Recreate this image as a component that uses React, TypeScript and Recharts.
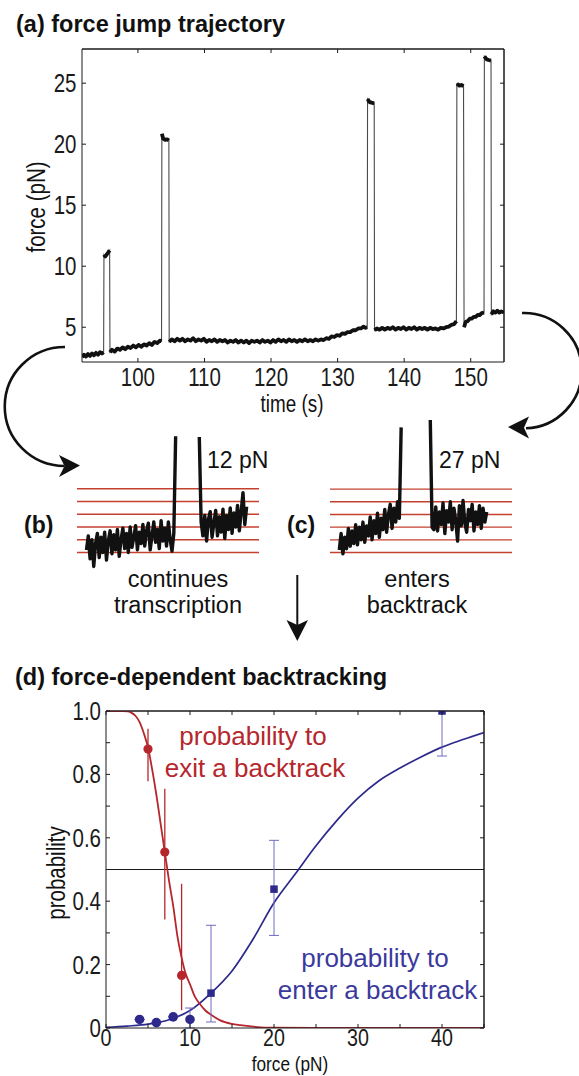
import React from 'react';
import { ComposedChart, LineChart, Line, XAxis, YAxis, Scatter, ErrorBar, ReferenceLine } from 'recharts';

const FONT = '"Liberation Sans", Arial, Helvetica, sans-serif';
const INK = '#1a1a1a';
const RED = '#b5272d';
const BLUE = '#2d2a8c';
const BLUE_TEXT = '#3b3a9c';
const BLUE_BAR = '#6f6dbf';
const STEP_RED = '#c4412f';
const SQUEEZE = 0.82; // the figure's axis lettering is set narrow

// (a) force jump trajectory, [time (s), force (pN)]
const LOW_1 = [[91.6, 2.55], [91.9, 2.75], [92.2, 2.6], [92.5, 2.8], [92.8, 2.65], [93.1, 2.85], [93.4, 2.7], [93.7, 2.9], [94.0, 2.75], [94.3, 2.95], [94.6, 2.85], [94.85, 2.95]];
const HIGH_1 = [[94.9, 10.95], [95.1, 10.8], [95.3, 10.95], [95.5, 11.1], [95.75, 11.3]];
const LOW_2 = [[95.8, 2.95], [96.1, 3.15], [96.5, 3.0], [96.9, 3.25], [97.3, 3.15], [97.7, 3.35], [98.1, 3.2], [98.5, 3.4], [98.9, 3.3], [99.3, 3.5], [99.7, 3.35], [100.1, 3.55], [100.5, 3.4], [100.9, 3.6], [101.3, 3.5], [101.7, 3.7], [102.1, 3.55], [102.5, 3.8], [102.9, 3.7], [103.3, 3.9], [103.55, 3.85]];
const HIGH_2 = [[103.6, 20.85], [103.8, 20.45], [104.1, 20.35], [104.4, 20.4], [104.65, 20.3]];
const LOW_3 = [
  [104.7, 3.8], [105.1, 4.0], [105.5, 3.85], [105.9, 4.05], [106.3, 3.9], [106.7, 4.05], [107.1, 3.85], [107.5, 4.0], [107.9, 3.9], [108.3, 4.1],
  [108.7, 3.85], [109.1, 4.0], [109.5, 3.9], [109.9, 4.05], [110.3, 3.8], [110.7, 3.95], [111.1, 3.85], [111.5, 4.0], [111.9, 3.8], [112.3, 3.95],
  [112.7, 3.85], [113.1, 3.95], [113.5, 3.75], [113.9, 3.9], [114.3, 3.8], [114.7, 3.95], [115.1, 3.75], [115.5, 3.9], [115.9, 3.75], [116.3, 3.9],
  [116.7, 3.7], [117.1, 3.9], [117.5, 3.8], [117.9, 3.9], [118.3, 3.75], [118.7, 3.95], [119.1, 3.8], [119.5, 3.9], [119.9, 3.75], [120.3, 3.95],
  [120.7, 3.8], [121.1, 4.0], [121.5, 3.85], [121.9, 3.95], [122.3, 3.8], [122.7, 4.0], [123.1, 3.85], [123.5, 3.95], [123.9, 3.8], [124.3, 3.95],
  [124.7, 3.85], [125.1, 4.0], [125.5, 3.85], [125.9, 3.95], [126.3, 3.85], [126.7, 4.0], [127.1, 3.9], [127.5, 4.0], [127.9, 3.95], [128.3, 4.1],
  [128.7, 4.05], [129.1, 4.25], [129.5, 4.2], [129.9, 4.35], [130.3, 4.3], [130.7, 4.5], [131.1, 4.45], [131.5, 4.6], [131.9, 4.6], [132.3, 4.75],
  [132.7, 4.75], [133.1, 4.9], [133.5, 4.9], [133.9, 5.05], [134.2, 4.95], [134.45, 5.0],
];
const HIGH_3 = [[134.5, 23.7], [134.8, 23.45], [135.1, 23.4], [135.5, 23.35]];
const LOW_4 = [
  [135.55, 4.75], [135.9, 4.9], [136.3, 4.8], [136.7, 4.95], [137.1, 4.8], [137.5, 4.95], [137.9, 4.85], [138.3, 5.0], [138.7, 4.8], [139.1, 4.95],
  [139.5, 4.85], [139.9, 5.0], [140.3, 4.8], [140.7, 4.95], [141.1, 4.85], [141.5, 5.0], [141.9, 4.8], [142.3, 4.95], [142.7, 4.85], [143.1, 4.95],
  [143.5, 4.8], [143.9, 4.95], [144.3, 4.85], [144.7, 4.9], [145.1, 4.8], [145.5, 4.95], [145.9, 4.9], [146.3, 5.0], [146.7, 5.05], [147.1, 5.2],
  [147.5, 5.25], [147.85, 5.5],
];
const HIGH_4 = [[147.92, 24.95], [148.3, 24.8], [148.6, 24.85], [148.92, 24.75]];
const LOW_5 = [[149.0, 5.0], [149.25, 5.45], [149.55, 5.5], [149.85, 5.7], [150.15, 5.7], [150.45, 5.85], [150.75, 5.85], [151.05, 6.0], [151.35, 6.0], [151.65, 6.15], [152.0, 6.2]];
const HIGH_5 = [[152.05, 27.2], [152.4, 26.95], [152.7, 26.9], [153.05, 26.85]];
const LOW_6 = [[153.1, 6.05], [153.4, 6.3], [153.7, 6.2], [154.0, 6.35], [154.3, 6.2], [154.6, 6.3], [155, 6.2]];
const TRACE_SEGMENTS = [LOW_1, HIGH_1, LOW_2, HIGH_2, LOW_3, HIGH_3, LOW_4, HIGH_4, LOW_5, HIGH_5, LOW_6];
const A_X_DOMAIN = [91.6, 155];
const A_Y_DOMAIN = [2.15, 27.8];
const A_X_TICKS = [100, 110, 120, 130, 140, 150];
const A_Y_TICKS = [5, 10, 15, 20, 25];

// (b) and (c) zoomed steps, one value per sample, null where the trace is off scale
const B_TRACE = [
  0.2, 1.3, -0.5, 1.0, -1.1, 0.7, 1.5, -0.4, 1.2, 0.0, 1.6, -0.6, 0.9, 1.7, -0.1, 1.4, 0.2, 1.8, -0.3, 1.0,
  1.9, 0.3, 1.5, 0.0, 2.0, 0.4, 1.2, 2.1, 0.2, 1.6, 0.7, 2.2, 0.5, 1.7, 2.3, 0.2, 1.3, 2.4, 0.8, 1.8,
  0.3, 2.5, 0.9, 1.9, 0.5, 2.4, 1.0, 0.1, 1.5,
  9.13, null, null, null, null, null, null, null, null, null, null, null, null, 9.07,
  2.4, 1.3, 2.9, 0.9, 2.6, 3.2, 1.2, 2.3, 3.3, 1.3, 2.8, 1.6, 3.4, 1.1, 2.9, 1.8, 3.5, 1.5, 3.1, 2.0,
  3.7, 1.7, 3.2, 4.7, 2.2, 3.6,
];
const C_TRACE = [
  0.2, 1.5, -0.1, 1.2, 0.3, 1.9, 0.5, 1.7, 0.7, 2.2, 0.6, 2.0, 1.0, 2.4, 0.8, 2.1, 1.3, 2.8, 1.0, 2.5,
  1.5, 3.1, 1.2, 2.7, 1.8, 3.4, 1.6, 3.0, 3.8, 1.9, 3.5, 2.4, 4.0, 2.7,
  9.87, null, null, null, null, null, null, null, null, null, null, null, null, null, null, null, 10.45,
  2.0, 1.8, 3.6, 1.7, 3.2, 2.2, 3.9, 1.5, 3.3, 2.4, 4.0, 1.8, 3.5, 2.5, 0.9, 3.7, 2.1, 4.1, 2.3, 1.6,
  3.4, 2.5, 3.8, 1.7, 3.2, 2.2, 3.7, 1.9, 3.5, 2.4, 3.2,
];
const STEP_LEVELS = [0, 1, 2, 3, 4, 5];

// (d) force-dependent backtracking
const EXIT_FIT_X = [0, 1, 2, 2.6, 3, 3.5, 4, 4.5, 5, 5.5, 6, 6.5, 7, 7.5, 8, 8.5, 9, 9.5, 10, 10.6, 11.2, 11.8, 12.5, 13.6, 15, 16, 18, 20, 25, 30, 35, 40, 45];
const EXIT_FIT_P = [1, 1, 1, 0.999, 0.995, 0.985, 0.965, 0.93, 0.885, 0.815, 0.735, 0.645, 0.555, 0.465, 0.385, 0.29, 0.222, 0.17, 0.138, 0.098, 0.075, 0.056, 0.042, 0.024, 0.013, 0.009, 0.003, 0.001, 0, 0, 0, 0, 0];
const ENTER_FIT_X = [0, 2.5, 5, 7.5, 10, 12.5, 15, 17.5, 20, 22.5, 25, 27.5, 30, 32.5, 35, 37.5, 40, 42.5, 45];
const ENTER_FIT_P = [0.002, 0.006, 0.012, 0.026, 0.055, 0.11, 0.18, 0.28, 0.395, 0.485, 0.575, 0.655, 0.725, 0.78, 0.82, 0.855, 0.886, 0.91, 0.932];
const EXIT_X = [5, 7, 9];
const EXIT_P = [0.88, 0.555, 0.166];
const EXIT_LO = [0.778, 0.342, 0.056];
const EXIT_HI = [0.944, 0.755, 0.455];
const ENTER_DOT_X = [4, 6, 8, 10];
const ENTER_DOT_P = [0.027, 0.017, 0.035, 0.027];
const ENTER_DOT_LO = [0.027, 0.017, 0.035, 0.0];
const ENTER_DOT_HI = [0.027, 0.017, 0.035, 0.063];
const ENTER_SQ_X = [12.5, 20, 40];
const ENTER_SQ_P = [0.11, 0.438, 1.0];
const ENTER_SQ_LO = [0.019, 0.292, 0.858];
const ENTER_SQ_HI = [0.324, 0.592, 1.0];
const D_X_DOMAIN = [0, 45];
const D_Y_DOMAIN = [0, 1];
const D_X_TICKS = [0, 5, 10, 15, 20, 25, 30, 35, 40, 45];
const D_Y_TICKS = [0, 0.1, 0.2, 0.3, 0.4, 0.5, 0.6, 0.7, 0.8, 0.9, 1.0];

const traceRows: { t: number; thin: number | null; thick: number | null }[] = [];
TRACE_SEGMENTS.forEach((seg, k) => {
  if (k > 0) traceRows.push({ t: seg[0][0], thin: null, thick: null });
  seg.forEach(([t, f]) => traceRows.push({ t, thin: f, thick: f }));
});

const toRows = (xs: number[], ps: number[]) => xs.map((x, k) => ({ x, y: ps[k] }));
const toPoints = (xs: number[], ps: number[], lo: number[], hi: number[]) =>
  xs.map((x, k) => ({ x, y: ps[k], err: [ps[k] - lo[k], hi[k] - ps[k]] }));

const frame = { stroke: INK, strokeWidth: 1 };
const noLabel = () => '';

// tick label drawn narrow, like the figure's lettering
function NarrowTick(props: any) {
  const { x, y, payload, textAnchor, side, fmt, size = 25 } = props;
  const label = fmt ? fmt(payload.value) : String(payload.value);
  if (!label) return null;
  return (
    <g transform={`translate(${x},${y})`}>
      <text transform={`scale(${SQUEEZE},1)`} textAnchor={textAnchor} dy={side === 'bottom' ? '0.71em' : '0.36em'}
        fontSize={size} fontFamily={FONT} fill={INK}>{label}</text>
    </g>
  );
}

// top and right edges of the box, with inward ticks, drawn as a second chart on the same plot area
function BoxTopRight({ width, height, margin, xDomain, yDomain, xTicks, yTicks }: any) {
  const corners = [{ x: xDomain[0], y: yDomain[0] }, { x: xDomain[1], y: yDomain[1] }];
  return (
    <LineChart width={width} height={height} margin={margin} data={corners}>
      <XAxis dataKey="x" orientation="top" type="number" domain={xDomain} allowDataOverflow ticks={xTicks} interval={0}
        tickSize={-4} axisLine={frame} tickLine={frame} tickFormatter={noLabel} height={5} />
      <YAxis orientation="right" type="number" domain={yDomain} allowDataOverflow ticks={yTicks} interval={0}
        tickSize={-4} axisLine={frame} tickLine={frame} tickFormatter={noLabel} width={5} />
      <Line dataKey="y" stroke="none" dot={false} isAnimationActive={false} />
    </LineChart>
  );
}

function TrajectoryChart() {
  return (
    <LineChart width={579} height={420} data={traceRows} margin={{ top: 49, right: 75, bottom: 18, left: 0 }}>
      <XAxis dataKey="t" type="number" domain={A_X_DOMAIN} allowDataOverflow ticks={A_X_TICKS} interval={0}
        tickSize={-4} tickMargin={10} axisLine={frame} tickLine={frame} height={40}
        tick={(p: any) => <NarrowTick {...p} side="bottom" />} />
      <YAxis type="number" domain={A_Y_DOMAIN} allowDataOverflow ticks={A_Y_TICKS} interval={0}
        tickSize={-4} tickMargin={9.5} axisLine={frame} tickLine={frame} width={82}
        tick={(p: any) => <NarrowTick {...p} side="left" />} />
      <ReferenceLine y={A_Y_DOMAIN[1]} stroke={INK} strokeWidth={1} />
      <ReferenceLine x={A_X_DOMAIN[1]} stroke={INK} strokeWidth={1} />
      <Line dataKey="thin" stroke="#4a4a4a" strokeWidth={1.1} dot={false} connectNulls isAnimationActive={false} />
      <Line dataKey="thick" stroke="#111" strokeWidth={3.8} dot={false} isAnimationActive={false} strokeLinejoin="round" />
    </LineChart>
  );
}

function StepInset({ trace, xDomain, yDomain, height }: { trace: (number | null)[]; xDomain: number[]; yDomain: number[]; height: number }) {
  const rows = trace.map((v, i) => ({ i, v }));
  return (
    <LineChart width={182} height={height} data={rows} margin={{ top: 0, right: 0, bottom: 0, left: 0 }}>
      <XAxis dataKey="i" type="number" domain={xDomain} allowDataOverflow hide />
      <YAxis type="number" domain={yDomain} allowDataOverflow hide />
      {STEP_LEVELS.map((lvl) => (
        <Line key={lvl} data={[{ i: xDomain[0], v: lvl }, { i: xDomain[1], v: lvl }]} dataKey="v"
          stroke={STEP_RED} strokeWidth={1.4} dot={false} isAnimationActive={false} />
      ))}
      <Line dataKey="v" stroke="#111" strokeWidth={3.4} dot={false} isAnimationActive={false} strokeLinejoin="round" />
    </LineChart>
  );
}

const circle = (fill: string, r: number) => (p: any) => <circle cx={p.cx} cy={p.cy} r={r} fill={fill} />;
const square = (fill: string, s: number) => (p: any) => (
  <rect x={p.cx - s / 2} y={p.cy - s / 2} width={s} height={s} fill={fill} />
);

function BacktrackChart() {
  const yLabel = (v: number) => {
    const r = Math.round(v * 10);
    if (r % 2 !== 0) return '';
    return r === 0 ? '0' : v.toFixed(1);
  };
  const xLabel = (v: number) => (v % 10 === 0 ? String(v) : '');
  return (
    <ComposedChart width={579} height={396} margin={{ top: 31, right: 95, bottom: 3, left: 0 }}>
      <XAxis dataKey="x" type="number" domain={D_X_DOMAIN} allowDataOverflow ticks={D_X_TICKS} interval={0}
        tickSize={-4} tickMargin={5} axisLine={frame} tickLine={frame} height={45}
        tick={(p: any) => <NarrowTick {...p} side="bottom" fmt={xLabel} size={24} />} />
      <YAxis type="number" domain={D_Y_DOMAIN} allowDataOverflow ticks={D_Y_TICKS} interval={0}
        tickSize={-4} tickMargin={9} axisLine={frame} tickLine={frame} width={106}
        tick={(p: any) => <NarrowTick {...p} side="left" fmt={yLabel} />} />
      <ReferenceLine y={D_Y_DOMAIN[1]} stroke={INK} strokeWidth={1} />
      <ReferenceLine x={D_X_DOMAIN[1]} stroke={INK} strokeWidth={1} />
      <ReferenceLine y={0.5} stroke={INK} strokeWidth={1} />
      <Line data={toRows(ENTER_FIT_X, ENTER_FIT_P)} dataKey="y" type="monotone" stroke={BLUE} strokeWidth={1.7}
        dot={false} isAnimationActive={false} />
      <Line data={toRows(EXIT_FIT_X, EXIT_FIT_P)} dataKey="y" type="monotone" stroke={RED} strokeWidth={1.8}
        dot={false} isAnimationActive={false} />
      <Scatter data={toPoints(EXIT_X, EXIT_P, EXIT_LO, EXIT_HI)} dataKey="y" shape={circle(RED, 4.6)} isAnimationActive={false}>
        <ErrorBar dataKey="err" direction="y" width={0} stroke={RED} strokeWidth={1.3} />
      </Scatter>
      <Scatter data={toPoints(ENTER_DOT_X, ENTER_DOT_P, ENTER_DOT_LO, ENTER_DOT_HI)} dataKey="y" shape={circle(BLUE, 4.8)} isAnimationActive={false}>
        <ErrorBar dataKey="err" direction="y" width={5} stroke={BLUE_BAR} strokeWidth={1} />
      </Scatter>
      <Scatter data={toPoints(ENTER_SQ_X, ENTER_SQ_P, ENTER_SQ_LO, ENTER_SQ_HI)} dataKey="y" shape={square(BLUE, 7.5)} isAnimationActive={false}>
        <ErrorBar dataKey="err" direction="y" width={5} stroke={BLUE_BAR} strokeWidth={1} />
      </Scatter>
    </ComposedChart>
  );
}

export default function App() {
  const txt = { fontFamily: FONT, fill: '#111' };
  const abs = (left: number, top: number) => ({ position: 'absolute' as const, left, top });
  return (
    <div style={{ position: 'absolute', left: 0, top: 0, width: 579, height: 1076, background: '#fff', overflow: 'hidden' }}>
      <div style={abs(0, 0)}>
        <TrajectoryChart />
      </div>
      <div style={{ ...abs(0, 0), pointerEvents: 'none' }}>
        <BoxTopRight width={579} height={420} margin={{ top: 44, right: 70, bottom: 58, left: 82 }}
          xDomain={A_X_DOMAIN} yDomain={A_Y_DOMAIN} xTicks={A_X_TICKS} yTicks={A_Y_TICKS} />
      </div>
      <div style={abs(77.3, 435.5)}>
        <StepInset trace={B_TRACE} xDomain={[-5.2, 94.8]} yDomain={[-1.3, 9.15]} height={133} />
      </div>
      <div style={abs(330, 419.6)}>
        <StepInset trace={C_TRACE} xDomain={[-5.1, 94.9]} yDomain={[-1.3, 10.45]} height={149} />
      </div>
      <div style={abs(0, 680)}>
        <BacktrackChart />
      </div>
      <div style={{ ...abs(0, 680), pointerEvents: 'none' }}>
        <BoxTopRight width={579} height={396} margin={{ top: 26, right: 90, bottom: 48, left: 106 }}
          xDomain={D_X_DOMAIN} yDomain={D_Y_DOMAIN} xTicks={D_X_TICKS} yTicks={D_Y_TICKS} />
      </div>
      <svg width={579} height={1076} style={{ position: 'absolute', left: 0, top: 0, pointerEvents: 'none' }}>
        <text x={16} y={32} fontSize={23.5} fontWeight="bold" {...txt}>(a) force jump trajectory</text>
        <text fontSize={25} textAnchor="middle" transform={`translate(45,207) rotate(-90) scale(${SQUEEZE},1)`} {...txt}>force (pN)</text>
        <text fontSize={23} textAnchor="middle" transform={`translate(292,412) scale(${SQUEEZE},1)`} {...txt}>time (s)</text>

        <path d="M65,347 A60,59.5 0 0 0 64.5,466" fill="none" stroke="#111" strokeWidth={2.6} />
        <path d="M80,465.5 L59,455 L64.5,466 L59,477 Z" fill="#111" />
        <path d="M522,313 A57.5,57.5 0 0 1 526,428.3" fill="none" stroke="#111" strokeWidth={2.6} />
        <path d="M508,427 L529,416.5 L524,427.8 L529,438.5 Z" fill="#111" />
        <line x1={297.3} y1={575} x2={297.3} y2={627} stroke="#111" strokeWidth={2} />
        <path d="M297.3,641 L286.5,620 L297.3,625 L308,620 Z" fill="#111" />

        <text x={24} y={533} fontSize={23} fontWeight="bold" {...txt}>(b)</text>
        <text x={287} y={533} fontSize={23} fontWeight="bold" {...txt}>(c)</text>
        <text x={207} y={468} fontSize={23} {...txt}>12 pN</text>
        <text x={439} y={468} fontSize={23} {...txt}>27 pN</text>
        <text x={178} y={587} fontSize={23.5} textAnchor="middle" {...txt}>continues</text>
        <text x={178} y={613} fontSize={23.5} textAnchor="middle" {...txt}>transcription</text>
        <text x={417} y={587} fontSize={23.5} textAnchor="middle" {...txt}>enters</text>
        <text x={417} y={613} fontSize={23.5} textAnchor="middle" {...txt}>backtrack</text>

        <text x={15} y={685} fontSize={23.5} fontWeight="bold" {...txt}>(d) force-dependent backtracking</text>
        <text fontSize={25} textAnchor="middle" transform={`translate(65,873) rotate(-90) scale(${SQUEEZE},1)`} {...txt}>probability</text>
        <text fontSize={21} textAnchor="middle" transform={`translate(290,1071) scale(${SQUEEZE},1)`} {...txt}>force (pN)</text>
        <text x={253} y={745} fontSize={26} textAnchor="middle" fontFamily={FONT} fill={RED}>probability to</text>
        <text x={255} y={777} fontSize={26} textAnchor="middle" fontFamily={FONT} fill={RED}>exit a backtrack</text>
        <text x={375} y={967} fontSize={26} textAnchor="middle" fontFamily={FONT} fill={BLUE_TEXT}>probability to</text>
        <text x={377.5} y={999} fontSize={26} textAnchor="middle" fontFamily={FONT} fill={BLUE_TEXT}>enter a backtrack</text>
      </svg>
    </div>
  );
}
